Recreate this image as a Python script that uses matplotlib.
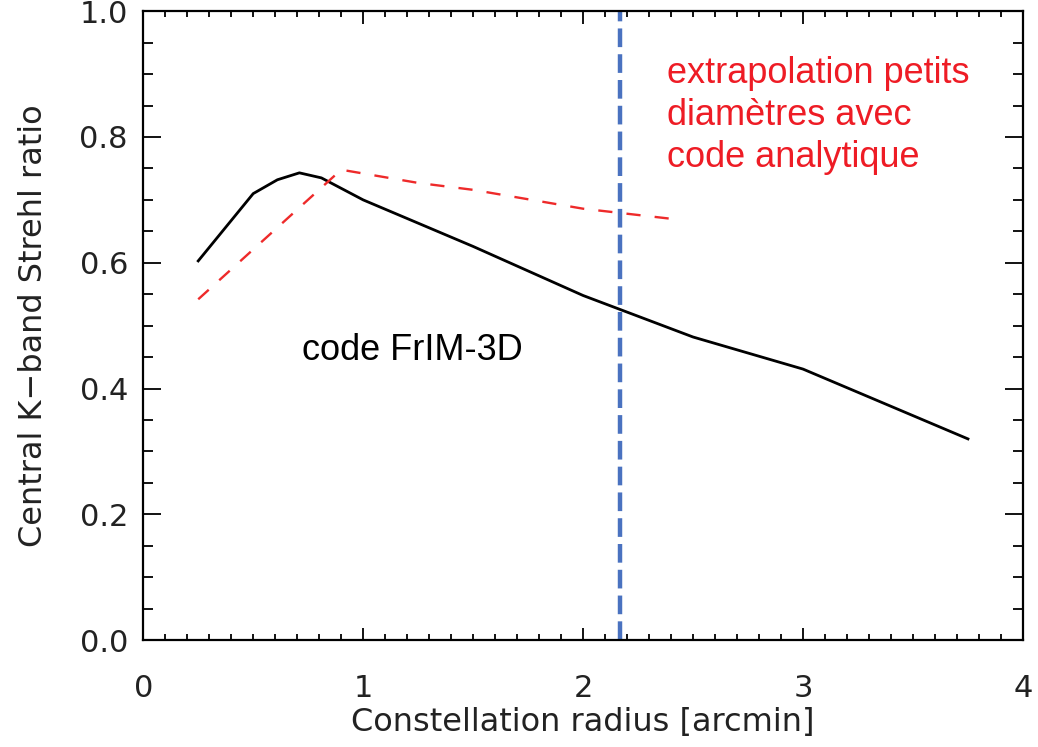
import matplotlib
matplotlib.use("Agg")
import matplotlib.pyplot as plt
from matplotlib.ticker import MultipleLocator

# FrIM-3D simulation (black)
r_frim = [0.25, 0.5, 0.61, 0.71, 0.81, 1.0, 1.5, 2.0, 2.5, 3.0, 3.75]
s_frim = [0.603, 0.710, 0.732, 0.743, 0.735, 0.700, 0.626, 0.548, 0.482, 0.431, 0.320]

# analytic extrapolation (red dashed)
r_ana = [0.25, 0.9, 1.25, 1.5, 2.0, 2.45]
s_ana = [0.542, 0.748, 0.727, 0.716, 0.686, 0.668]

r_limit = 2.17

fig = plt.figure(figsize=(10.38, 7.47), dpi=100)
ax = fig.add_axes([0.138, 0.143, 0.8475, 0.842])

ax.plot(r_frim, s_frim, "-", color="black", lw=2)
ax.plot(r_ana, s_ana, color="#ee2a2a", lw=1.7, dashes=(6, 6))
ax.axvline(r_limit, color="#4a72c0", lw=3.2, dashes=(4.2, 1.6))

ax.set_xlim(0, 4)
ax.set_ylim(0, 1.0)
ax.xaxis.set_major_locator(MultipleLocator(1))
ax.xaxis.set_minor_locator(MultipleLocator(0.1))
ax.yaxis.set_major_locator(MultipleLocator(0.2))
ax.yaxis.set_minor_locator(MultipleLocator(0.05))
ax.xaxis.set_major_formatter(plt.FuncFormatter(lambda v, p: f"{v:.0f}"))
ax.yaxis.set_major_formatter(plt.FuncFormatter(lambda v, p: f"{v:.1f}"))

ax.tick_params(which="both", direction="in", top=True, right=True, width=1.3,
               labelsize=22, labelcolor="#222222")
ax.tick_params(axis="x", which="major", length=9, pad=24)
ax.tick_params(axis="x", which="minor", length=4.5)
ax.tick_params(axis="y", which="major", length=13, pad=11)
ax.tick_params(axis="y", which="minor", length=7)
for s in ax.spines.values():
    s.set_linewidth(1.6)

ax.set_xlabel("Constellation radius [arcmin]", fontsize=23, color="#222222", labelpad=3)
ax.set_ylabel("Central K\u2212band Strehl ratio", fontsize=23, color="#222222", labelpad=22)

ax.text(0.72, 0.46, "code FrIM-3D", fontsize=26, family="Liberation Sans",
        color="black", va="center", ha="left")
ax.text(2.38, 0.834, "extrapolation petits\ndiamètres avec\ncode analytique",
        fontsize=26, family="Liberation Sans", color="#ee1c25",
        va="center", ha="left", linespacing=1.25)

fig.savefig("out.png", dpi=100)
